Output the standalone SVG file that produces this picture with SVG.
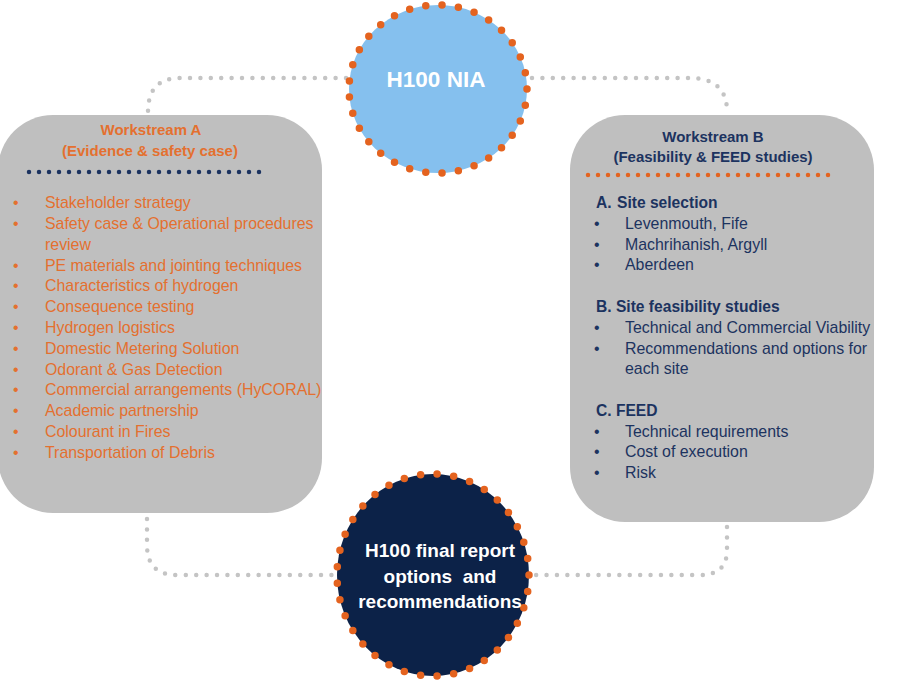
<svg xmlns="http://www.w3.org/2000/svg" width="908" height="680" viewBox="0 0 908 680">
<style>
.conn{fill:none;stroke:#C4C4C4;stroke-width:4.5;stroke-linecap:round;stroke-dasharray:0 10.4}
.box{fill:#BFBFBF}
.ring{stroke:#E4631F;stroke-width:7.5;stroke-linecap:round;stroke-dasharray:0 10}
.hA{font-family:"Liberation Sans",Arial,sans-serif;font-weight:bold;font-size:15px;fill:#E4702F;text-anchor:middle}
.hB{font-family:"Liberation Sans",Arial,sans-serif;font-weight:bold;font-size:15px;fill:#1C3360;text-anchor:middle}
.la{font-family:"Liberation Sans",Arial,sans-serif;font-size:15.9px;fill:#E4702F}
.lb{font-family:"Liberation Sans",Arial,sans-serif;font-size:15.9px;fill:#1C3360}
.sb{font-family:"Liberation Sans",Arial,sans-serif;font-weight:bold;font-size:15.6px;fill:#1C3360}
.ct{font-family:"Liberation Sans",Arial,sans-serif;font-weight:bold;fill:#FFFFFF;text-anchor:middle}
</style>
<rect width="908" height="680" fill="#FFFFFF"/>
<g id="connectors">
<path class="conn" d="M346 78 H180 Q148 78 148 112"/>
<path class="conn" d="M532 78 H690 Q726 78 727 110"/>
<path class="conn" d="M147 519 V545 Q147 575 177 575 H334"/>
<path class="conn" d="M727 527 V550 Q727 575 700 575 H534"/>
</g>
<g id="workstream-a">
<rect class="box" x="-2" y="115" width="324" height="398" rx="55" ry="55"/>
<text class="hA" x="151" y="135">Workstream A</text>
<text class="hA" x="150" y="156">(Evidence &amp; safety case)</text>
<line x1="29" y1="172" x2="269" y2="172" stroke="#1C3360" stroke-width="4.5" stroke-linecap="round" stroke-dasharray="0 10"/>
<g class="la">
<text x="13" y="208">•</text><text x="45" y="208">Stakeholder strategy</text>
<text x="13" y="229">•</text><text x="45" y="229">Safety case &amp; Operational procedures</text>
<text x="45" y="250">review</text>
<text x="13" y="271">•</text><text x="45" y="271">PE materials and jointing techniques</text>
<text x="13" y="291">•</text><text x="45" y="291">Characteristics of hydrogen</text>
<text x="13" y="312">•</text><text x="45" y="312">Consequence testing</text>
<text x="13" y="333">•</text><text x="45" y="333">Hydrogen logistics</text>
<text x="13" y="354">•</text><text x="45" y="354">Domestic Metering Solution</text>
<text x="13" y="375">•</text><text x="45" y="375">Odorant &amp; Gas Detection</text>
<text x="13" y="395">•</text><text x="45" y="395">Commercial arrangements (HyCORAL)</text>
<text x="13" y="416">•</text><text x="45" y="416">Academic partnership</text>
<text x="13" y="437">•</text><text x="45" y="437">Colourant in Fires</text>
<text x="13" y="458">•</text><text x="45" y="458">Transportation of Debris</text>
</g>
</g>
<g id="workstream-b">
<rect class="box" x="570" y="115" width="304" height="407" rx="55" ry="55"/>
<text class="hB" x="713" y="142">Workstream B</text>
<text class="hB" x="713" y="162">(Feasibility &amp; FEED studies)</text>
<line x1="588" y1="175" x2="829" y2="175" stroke="#E4631F" stroke-width="4.5" stroke-linecap="round" stroke-dasharray="0 10"/>
<text class="sb" x="596" y="208">A.<tspan x="617">Site selection</tspan></text>
<g class="lb">
<text x="594" y="229">•</text><text x="625" y="229">Levenmouth, Fife</text>
<text x="594" y="250">•</text><text x="625" y="250">Machrihanish, Argyll</text>
<text x="594" y="270">•</text><text x="625" y="270">Aberdeen</text>
</g>
<text class="sb" x="596" y="312">B. Site feasibility studies</text>
<g class="lb">
<text x="594" y="333">•</text><text x="625" y="333">Technical and Commercial Viability</text>
<text x="594" y="354">•</text><text x="625" y="354">Recommendations and options for</text>
<text x="625" y="374">each site</text>
</g>
<text class="sb" x="596" y="416">C. FEED</text>
<g class="lb">
<text x="594" y="437">•</text><text x="625" y="437">Technical requirements</text>
<text x="594" y="457">•</text><text x="625" y="457">Cost of execution</text>
<text x="594" y="478">•</text><text x="625" y="478">Risk</text>
</g>
</g>
<g id="h100-nia">
<ellipse cx="438" cy="89" rx="89" ry="84" fill="#85C0EE"/>
<ellipse class="ring" cx="438" cy="89" rx="89" ry="84" fill="none" pathLength="330"/>
<text class="ct" x="436" y="87" font-size="22.5">H100 NIA</text>
</g>
<g id="final-report">
<ellipse cx="433" cy="575" rx="96" ry="101" fill="#0C2248"/>
<ellipse class="ring" cx="433" cy="575" rx="96" ry="101" fill="none" pathLength="370"/>
<text class="ct" x="440" y="557" font-size="19">H100 final report</text>
<text class="ct" x="440" y="583" font-size="19" xml:space="preserve">options  and</text>
<text class="ct" x="440" y="608" font-size="19">recommendations</text>
</g>
</svg>
